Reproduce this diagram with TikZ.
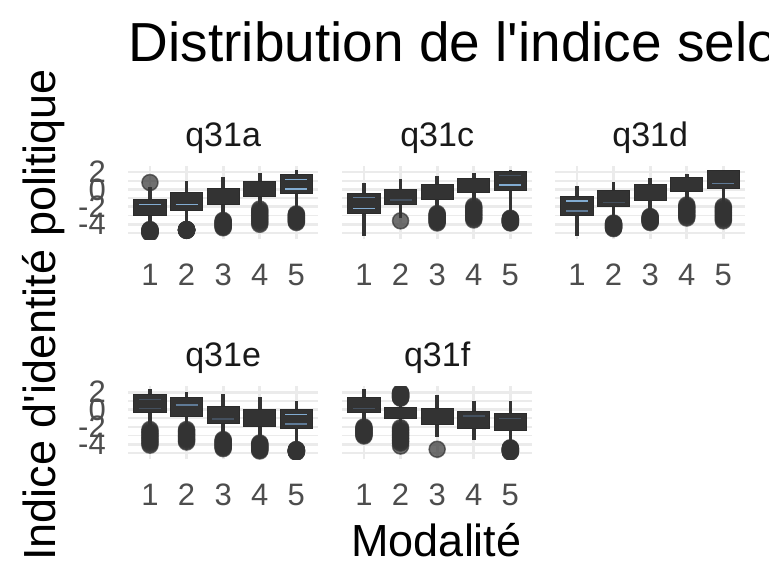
\documentclass[tikz,border=0pt]{standalone}
\usepackage{fontspec}
\setmainfont{Liberation Sans}
\definecolor{boxgray}{RGB}{51,51,51}
\definecolor{gridgray}{RGB}{235,235,235}
\definecolor{tickgray}{RGB}{77,77,77}
\definecolor{medhi}{RGB}{130,172,210}
\definecolor{medmid}{RGB}{95,122,150}
\definecolor{medlo}{RGB}{68,80,94}

% one facet: shift x, shift y, label, boxes
\newcommand{\facet}[4]{%
  \begin{scope}[shift={(#1,#2)},x=36.6pt,y=8.7pt]
    \begin{scope}
      \clip (0.4,-5.69) rectangle (5.6,2.7);
      \foreach \v in {1,-1,-3,-5}
        \draw[gridminor] (0.4,\v) -- (5.6,\v);
      \foreach \v in {2,0,-2,-4}
        \draw[gridmajor] (0.4,\v) -- (5.6,\v);
      \foreach \k in {1,...,5}
        \draw[gridmajor] (\k,-5.69) -- (\k,2.7);
      #4
    \end{scope}
    \node[strip] (#3) at (3,4.89) {#3};
    \foreach \k in {1,...,5}
      \node[xtick] (#3-\k) at (\k,-10.98) {\k};
  \end{scope}}
\newcommand{\outpts}[2]{\foreach \v in {#2} \draw[outlier] (#1,\v) circle (8pt);}
\newcommand{\outrun}[3]{\foreach \i in {0,...,10}
  \draw[outlier] (#1,{#2+(#3-(#2))*\i/10}) circle (8pt);}
\newcommand{\whbox}[5]{\draw[whisker] (#1,#2) -- (#1,#5);
  \draw[boxbody] (#1-0.44,#3) rectangle (#1+0.44,#4);}
\newcommand{\medln}[3]{\draw[median,#3] (#1-0.3,#2) -- (#1+0.3,#2);}

\begin{document}
\begin{tikzpicture}[x=1pt,y=-1pt,every node/.style={inner sep=0pt},
  gridmajor/.style={draw=gridgray,line width=2.8pt},
  gridminor/.style={draw=gridgray,line width=1.5pt},
  outlier/.style={fill=boxgray,fill opacity=0.7,draw=boxgray,draw opacity=0.7,line width=1.5pt},
  whisker/.style={draw=boxgray,line width=3.6pt},
  boxbody/.style={fill=boxgray,draw=boxgray!85!black,line width=1pt},
  median/.style={line width=1.2pt},
  strip/.style={anchor=base,text=black!90,font=\fontsize{34}{40}\selectfont},
  xtick/.style={anchor=base,text=tickgray,font=\fontsize{31}{36}\selectfont},
  ytick/.style={anchor=east,text=tickgray,font=\fontsize{31}{36}\selectfont},
  axtitle/.style={text=black,font=\fontsize{45}{52}\selectfont}]
\useasboundingbox (0,0) rectangle (769,588);
\fill[white] (0,0) rectangle (769,588);
\clip (0,0) rectangle (769,588);

\node[anchor=base west,font=\fontsize{55}{62}\selectfont] (title) at (128.7,62)
  {Distribution de l\textquotesingle indice selo};
\node[axtitle,anchor=base] (xlab) at (436.5,556) {Modalité};
\node[axtitle,anchor=base,rotate=90] (ylab) at (55,315)
  {Indice d\textquotesingle identité politique};

\foreach \r in {0,220}
  \foreach \v in {2,0,-2,-4}
    \node[ytick] (y\r\v) at (106,{189.5+\r-8.7*\v}) {\v};

\facet{113.36}{189.5}{q31a}{%
  \outpts{1}{0.8}
  \outrun{1}{-4.6}{-5.0}
  \whbox{1}{-4.3}{-3.0}{-1.2}{0.25}
  \medln{1}{-1.7}{medhi}
  \outrun{2}{-4.6}{-4.7}
  \whbox{2}{-4.0}{-2.36}{-0.37}{1.0}
  \medln{2}{-1.7}{medhi}
  \outrun{3}{-3.55}{-4.4}
  \whbox{3}{-3.3}{-1.78}{0.06}{1.47}
  \outrun{4}{-2.25}{-4.0}
  \whbox{4}{-2.0}{-0.83}{0.9}{1.93}
  \outrun{5}{-2.8}{-3.8}
  \whbox{5}{-2.5}{-0.44}{1.67}{2.24}
  \medln{5}{1.17}{medhi}
  \medln{5}{0.06}{medhi}}

\facet{327.36}{189.5}{q31c}{%
  \whbox{1}{-5.34}{-2.74}{-0.44}{0.78}
  \medln{1}{-0.94}{medmid}
  \medln{1}{-2.2}{medhi}
  \outpts{2}{-3.6}
  \whbox{2}{-3.3}{-1.78}{0.02}{1.17}
  \medln{2}{-1.2}{medlo}
  \outrun{3}{-2.76}{-3.85}
  \whbox{3}{-2.5}{-1.2}{0.52}{1.55}
  \outrun{4}{-1.9}{-3.5}
  \whbox{4}{-1.6}{-0.37}{1.29}{1.93}
  \outrun{5}{-3.3}{-3.85}
  \whbox{5}{-3.0}{-0.14}{2.05}{2.24}
  \medln{5}{1.59}{medlo}
  \medln{5}{0.52}{medhi}}

\facet{540.36}{189.5}{q31d}{%
  \whbox{1}{-5.34}{-3.0}{-0.83}{0.4}
  \medln{1}{-1.32}{medhi}
  \medln{1}{-2.47}{medmid}
  \outrun{2}{-3.85}{-4.5}
  \whbox{2}{-3.5}{-1.9}{-0.06}{0.83}
  \medln{2}{-1.47}{medlo}
  \outrun{3}{-3.1}{-3.8}
  \whbox{3}{-2.8}{-1.29}{0.52}{1.29}
  \outrun{4}{-1.78}{-3.28}
  \whbox{4}{-1.5}{-0.25}{1.36}{1.78}
  \outrun{5}{-1.95}{-3.6}
  \whbox{5}{-1.7}{0.14}{2.13}{2.24}
  \medln{5}{0.71}{medmid}}

\facet{113.36}{409.5}{q31e}{%
  \outrun{1}{-2.3}{-4.1}
  \whbox{1}{-2.0}{-0.32}{1.78}{2.3}
  \medln{1}{1.17}{medlo}
  \medln{1}{0.14}{medlo}
  \outrun{2}{-2.3}{-3.74}
  \whbox{2}{-2.0}{-0.75}{1.4}{2.05}
  \medln{2}{0.52}{medmid}
  \outrun{3}{-3.45}{-4.5}
  \whbox{3}{-3.1}{-1.59}{0.4}{1.75}
  \medln{3}{-1.09}{medlo}
  \outrun{4}{-3.85}{-4.77}
  \whbox{4}{-3.5}{-1.9}{0.02}{1.4}
  \outrun{5}{-4.6}{-4.9}
  \whbox{5}{-4.3}{-2.17}{0.02}{1.0}
  \medln{5}{-0.55}{medhi}
  \medln{5}{-1.67}{medmid}}

\facet{327.36}{409.5}{q31f}{%
  \outrun{1}{-2.0}{-3.05}
  \whbox{1}{-1.7}{-0.37}{1.4}{2.3}
  \medln{1}{0.14}{medlo}
  \outrun{2}{1.3}{1.95}
  \outrun{2}{-2.1}{-3.85}
  \outpts{2}{-4.2}
  \whbox{2}{-1.8}{-1.09}{0.25}{1.0}
  \outpts{3}{-4.57}
  \whbox{3}{-3.13}{-1.67}{0.14}{1.67}
  \whbox{4}{-3.5}{-2.17}{-0.25}{0.98}
  \medln{4}{-0.75}{medlo}
  \outrun{5}{-4.4}{-4.9}
  \whbox{5}{-4.1}{-2.47}{-0.44}{0.98}
  \medln{5}{-1.02}{medlo}}
\end{tikzpicture}
\end{document}
